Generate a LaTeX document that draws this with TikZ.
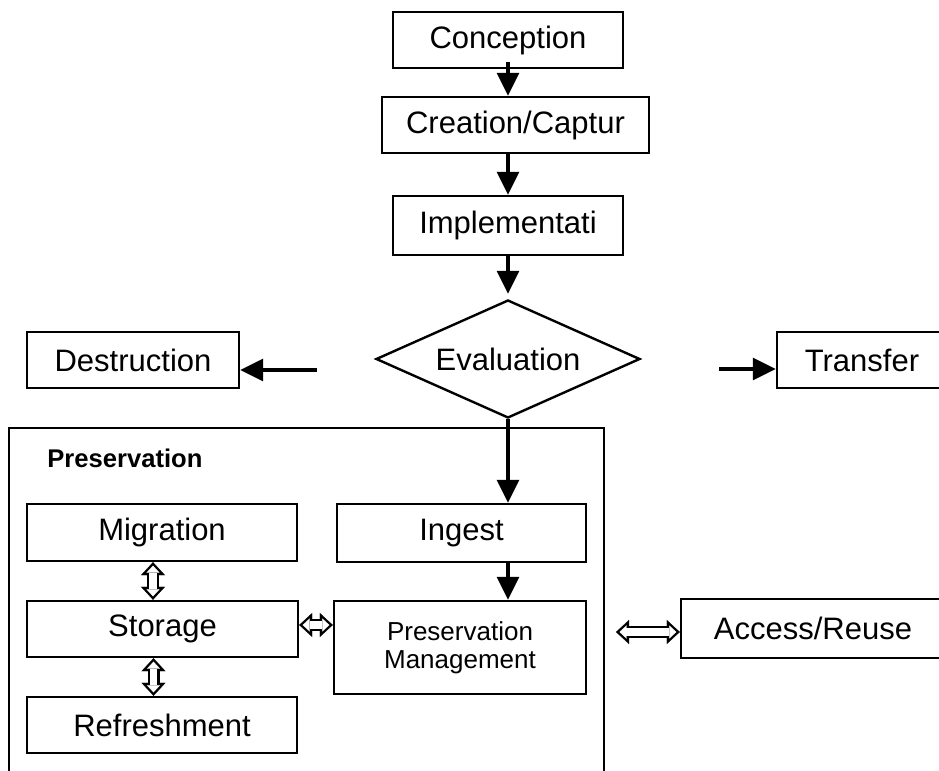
\documentclass[tikz,border=0pt]{standalone}
\usepackage{fontspec}
\setmainfont{Liberation Sans}
\usetikzlibrary{arrows.meta,shapes.geometric}

\tikzset{
  box/.style={draw, line width=1.2pt, inner sep=0pt, minimum height=28pt,
    font=\fontsize{15.5}{18}\selectfont},
  arr/.style={line width=1.6pt, -{Triangle[length=11.5pt,width=11pt]}},
  dblarr/.style={
    preaction={draw=black, line width=6pt, shorten <=0pt, shorten >=0pt,
      {Triangle[length=6.5pt,width=12pt,line width=0.1pt]}-{Triangle[length=6.5pt,width=12pt,line width=0.1pt]}},
    draw=white, line width=3.6pt, shorten <=1.75pt, shorten >=1.75pt,
    {Triangle[length=3.5pt,width=6.5pt,line width=0.1pt]}-{Triangle[length=3.5pt,width=6.5pt,line width=0.1pt]}}
}

\begin{document}
\begin{tikzpicture}[x=0.5pt,y=-0.5pt]
        \clip (0,0) rectangle (939,771);
        \fill[white] (0,0) rectangle (939,771);

        % Cadena superior
        \node[box, minimum width=115pt] (concep) at (508,40) {Conception};
        \node[box, minimum width=133.5pt] (create) at (515.5,125) {Creation/Captur};
        \node[box, minimum width=115pt, minimum height=29.5pt] (impl) at (508,225.5) {Implementati};

        % Evaluacion
        \node[box, diamond, aspect=2.24, minimum width=132pt, minimum height=59pt] (eval) at (508,359) {Evaluation};
        \node[box, minimum width=106pt] (destr) at (133,360) {Destruction};
        \node[box, minimum width=85pt] (trans) at (862,360) {Transfer};

        % Caja Preservation
        \draw[line width=1.2pt] (9,428) rectangle (604,800);
        \node[anchor=west, inner sep=0pt, font=\fontsize{12.8}{15}\selectfont\bfseries] (prestitle) at (47,458) {Preservation};

        \node[box, minimum width=135pt, minimum height=28.5pt] (migr) at (162,532.5) {Migration};
        \node[box, minimum width=124.5pt, minimum height=29pt] (ingest) at (461.5,533) {Ingest};
        \node[box, minimum width=135.5pt] (stor) at (162.5,629) {Storage};
        \node[box, minimum width=126pt, minimum height=46.5pt, align=center,
          font=\fontsize{13}{14}\selectfont] (pm) at (460,647.5) {Preservation\\Management};
        \node[box, minimum width=135pt] (refr) at (162,725) {Refreshment};

        % Access/Reuse
        \node[box, minimum width=132pt, minimum height=29.5pt] (access) at (813,628.5) {Access/Reuse};

        % Flechas
        \draw[arr] ([yshift=3.5pt]concep.south) -- (concep.south |- create.north);
        \draw[arr] (impl.north |- create.south) -- (impl.north);
        \draw[arr, shorten >=2.5pt] (impl.south) -- (eval.north);

        \coordinate (dstart) at (317,370);
        \draw[arr] (dstart) -- (dstart -| destr.east);
        \coordinate (tstart) at (719,369);
        \draw[arr] (tstart) -- (tstart -| trans.west);

        \draw[arr] (eval.south) -- (eval.south |- ingest.north);
        \draw[arr] (eval.south |- ingest.south) -- (eval.south |- pm.north);

        % Flechas dobles
        \draw[dblarr] ([xshift=-4.5pt]migr.south) -- ([xshift=-4.5pt]migr.south |- stor.north);
        \draw[dblarr] ([xshift=-4.5pt]stor.south) -- ([xshift=-4.5pt]stor.south |- refr.north);
        \draw[dblarr] ([yshift=2pt]stor.east) -- ([yshift=2pt]stor.east -| pm.west);
        \coordinate (astart) at (616,632);
        \draw[dblarr] (astart) -- (astart -| access.west);

    \end{tikzpicture}
\end{document}
